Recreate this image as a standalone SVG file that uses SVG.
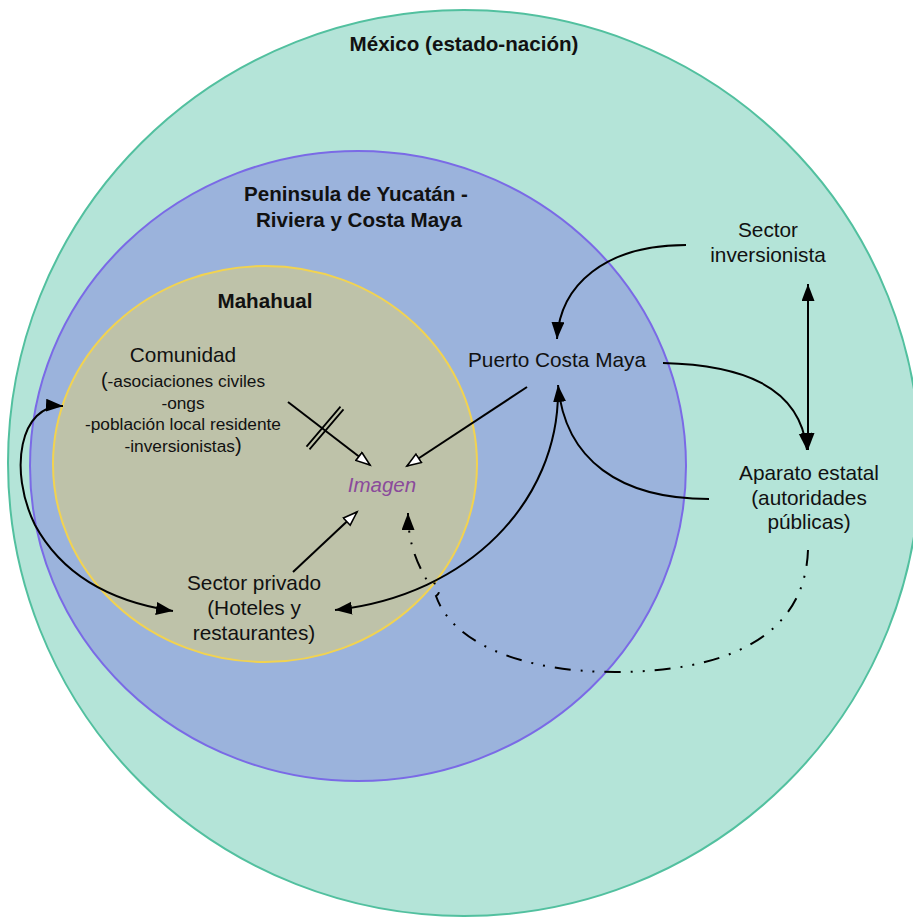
<svg xmlns="http://www.w3.org/2000/svg" width="913" height="920" viewBox="0 0 913 920">
<defs>
<style>
text{font-family:"Liberation Sans",Arial,sans-serif;fill:#111;text-anchor:middle}
.t{font-size:20.6px;font-weight:bold}
.l{font-size:20.8px}
.s{font-size:17.3px}
.c{fill:none;stroke:#000;stroke-width:2}
</style>
<marker id="ab" markerUnits="userSpaceOnUse" markerWidth="18" markerHeight="14" refX="17" refY="6.5" orient="auto-start-reverse"><path d="M0,0 L17,6.5 L0,13 z" fill="#000"/></marker>
<marker id="aw" markerUnits="userSpaceOnUse" markerWidth="18" markerHeight="14" refX="15" refY="6" orient="auto"><path d="M1,1 L15,6 L1,11 z" fill="#fff" stroke="#000" stroke-width="1.6"/></marker>
</defs>
<rect width="913" height="920" fill="#fff"/>
<g id="mexico">
<ellipse cx="464" cy="463" rx="456" ry="453" fill="#b4e4d8" stroke="#52c09f" stroke-width="2"/>
<text class="t" x="464" y="51">México (estado-nación)</text>
</g>
<g id="peninsula">
<ellipse cx="358" cy="466" rx="328" ry="315" fill="#9bb3dc" stroke="#7a6ae6" stroke-width="2"/>
<text class="t" x="356" y="201">Peninsula de Yucatán -</text>
<text class="t" x="359" y="227">Riviera y Costa Maya</text>
</g>
<g id="mahahual">
<ellipse cx="265" cy="464" rx="212" ry="198" fill="#bec2a9" stroke="#f2d350" stroke-width="2"/>
<text class="t" x="265" y="308">Mahahual</text>
</g>
<g id="comunidad">
<text class="l" x="183" y="362">Comunidad</text>
<text class="s" x="183" y="387"><tspan font-size="20">(</tspan>-asociaciones civiles</text>
<text class="s" x="183" y="409">-ongs</text>
<text class="s" x="183" y="430">-población local residente</text>
<text class="s" x="183" y="452">-inversionistas<tspan font-size="20">)</tspan></text>
</g>
<g id="imagen">
<text x="382" y="492" font-size="20.5" font-style="italic" style="fill:#8a4a9b">Imagen</text>
</g>
<g id="puerto">
<text class="l" x="557" y="367">Puerto Costa Maya</text>
</g>
<g id="inversionista">
<text class="l" x="768" y="237">Sector</text>
<text class="l" x="768" y="262">inversionista</text>
</g>
<g id="aparato">
<text class="l" x="809" y="480">Aparato estatal</text>
<text class="l" x="809" y="505">(autoridades</text>
<text class="l" x="809" y="529">públicas)</text>
</g>
<g id="privado">
<text class="l" x="254" y="590">Sector privado</text>
<text class="l" x="254" y="615">(Hoteles y</text>
<text class="l" x="254" y="640">restaurantes)</text>
</g>
<g id="connectors">
<path class="c" d="M686 245 C605 245 560 285 557 339" marker-end="url(#ab)"/>
<path class="c" d="M808 284 L808 450" marker-start="url(#ab)" marker-end="url(#ab)"/>
<path class="c" d="M663 363 C740 365 800 385 807 450" marker-end="url(#ab)"/>
<path class="c" d="M709 499 C620 499 565 460 558 385" marker-end="url(#ab)"/>
<path class="c" d="M558 392 C558 500 470 595 335 610" marker-end="url(#ab)"/>
<path class="c" d="M63 406 C20 404 8 470 35 525 C65 580 120 603 173 611" marker-start="url(#ab)" marker-end="url(#ab)"/>
<path class="c" d="M288 402 L370 465" marker-end="url(#aw)"/>
<path d="M306.5 446.7 L340.5 406.7 M309.5 449.3 L343.5 409.3" stroke="#000" stroke-width="1.8" fill="none"/>
<path class="c" d="M527 387 L407 466" marker-end="url(#aw)"/>
<path class="c" d="M293 572 L357 512" marker-end="url(#aw)"/>
<path class="c" d="M808 550 C805 640 720 672 615 672 C520 672 452 642 436 596 A5 5 0 0 0 429 584 C418 565 408 545 408 513" stroke-dasharray="16 10 2 10 2 10" marker-end="url(#ab)"/>
</g>
</svg>
